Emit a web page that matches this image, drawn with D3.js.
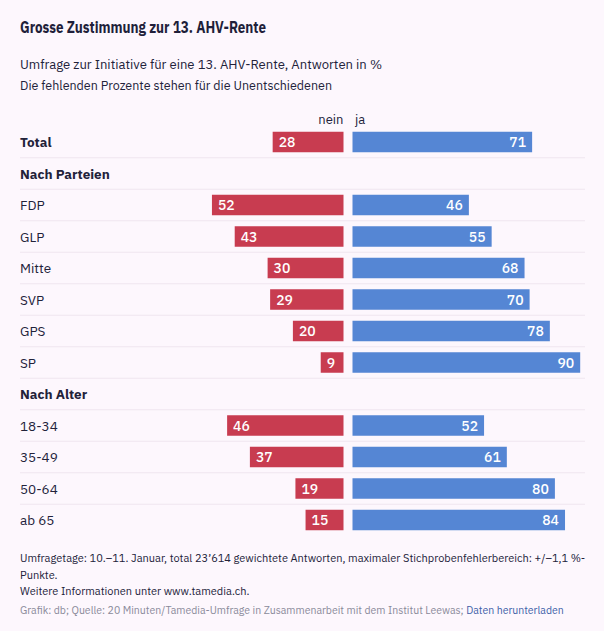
<!DOCTYPE html>
<html><head><meta charset="utf-8">
<script src="https://cdn.jsdelivr.net/npm/d3@7"></script>
<style>
html,body{margin:0;padding:0;background:#fdf7fd;}
svg{display:block;font-family:"IBM Plex Sans","Noto Sans",Roboto,sans-serif;}
</style></head><body>
<svg id="chart" width="604" height="631"></svg>
<script>
const rows = ["Total","Nach Parteien","FDP","GLP","Mitte","SVP","GPS","SP","Nach Alter","18-34","35-49","50-64","ab 65"];
const boldRows = ["Total","Nach Parteien","Nach Alter"];
const neinValues = [28,null,52,43,30,29,20,9,null,46,37,19,15];
const jaValues = [71,null,46,55,68,70,78,90,null,52,61,80,84];
const seriesLabels = ["nein","ja"];

const svg = d3.select("#chart");
const bg="#fdf7fd", red="#c83c50", blue="#5586d4", textCol="#22223a", lineCol="#efe6ef";

svg.append("rect").attr("width",604).attr("height",631).attr("fill",bg);

svg.append("text").attr("x",20).attr("y",33).attr("font-size",16.5).attr("font-weight",700)
  .attr("fill","#1f1f3a").attr("textLength",246).attr("lengthAdjust","spacingAndGlyphs")
  .text("Grosse Zustimmung zur 13. AHV-Rente");
svg.append("text").attr("x",20).attr("y",69).attr("font-size",13.5).attr("fill",textCol)
  .attr("textLength",362).attr("lengthAdjust","spacingAndGlyphs")
  .text("Umfrage zur Initiative für eine 13. AHV-Rente, Antworten in %");
svg.append("text").attr("x",20).attr("y",90).attr("font-size",13.5).attr("fill",textCol)
  .attr("textLength",312).attr("lengthAdjust","spacingAndGlyphs")
  .text("Die fehlenden Prozente stehen für die Unentschiedenen");

const step = 31.5;
const y = d3.scaleBand().domain(rows).range([126.25,126.25+rows.length*step]).paddingInner(0).paddingOuter(0);
const barH = 20.5;
const neinX = d3.scaleLinear().domain([0,100]).range([343.5,343.5-253]);
const jaX = d3.scaleLinear().domain([0,100]).range([352.5,352.5+253]);

svg.append("text").attr("x",343.5).attr("y",124).attr("text-anchor","end").attr("font-size",13).attr("fill",textCol).text(seriesLabels[0]);
svg.append("text").attr("x",355).attr("y",124).attr("font-size",13).attr("fill",textCol).text(seriesLabels[1]);

rows.forEach((r,i)=>{
  if(i<rows.length-1){
    const yy = y(r)+y.bandwidth();
    svg.append("line").attr("x1",20).attr("x2",585).attr("y1",yy).attr("y2",yy).attr("stroke",lineCol).attr("stroke-width",1);
  }
});

const g = svg.append("g");
rows.forEach((r,i)=>{
  const cy = y(r)+y.bandwidth()/2;
  g.append("text").attr("x",20).attr("y",cy+5).attr("font-size",13.5)
    .attr("font-weight",boldRows.includes(r)?700:400).attr("fill",textCol).text(r);
  if(neinValues[i]!=null){
    const v=neinValues[i];
    g.append("rect").attr("x",neinX(v)).attr("width",neinX(0)-neinX(v)).attr("y",cy-barH/2).attr("height",barH).attr("fill",red);
    g.append("text").attr("x",neinX(v)+6).attr("y",cy+5).attr("font-size",14).attr("font-weight",500).attr("fill","#fff").text(v);
    const w=jaValues[i];
    g.append("rect").attr("x",jaX(0)).attr("width",jaX(w)-jaX(0)).attr("y",cy-barH/2).attr("height",barH).attr("fill",blue);
    g.append("text").attr("x",jaX(w)-6).attr("y",cy+5).attr("text-anchor","end").attr("font-size",14).attr("font-weight",500).attr("fill","#fff").text(w);
  }
});

const foot = svg.append("g").attr("font-size",11).attr("fill",textCol);
foot.append("text").attr("x",20).attr("y",562).text("Umfragetage: 10.–11. Januar, total 23’614 gewichtete Antworten, maximaler Stichprobenfehlerbereich: +/–1,1 %-");
foot.append("text").attr("x",20).attr("y",579).text("Punkte.");
foot.append("text").attr("x",20).attr("y",595).text("Weitere Informationen unter www.tamedia.ch.");
const src = svg.append("text").attr("x",20).attr("y",614).attr("font-size",10.5).attr("fill","#8a8a9a");
src.append("tspan").text("Grafik: db; Quelle: 20 Minuten/Tamedia-Umfrage in Zusammenarbeit mit dem Institut Leewas; ");
src.append("tspan").attr("fill","#3d5fa8").text("Daten herunterladen");
</script></body></html>
